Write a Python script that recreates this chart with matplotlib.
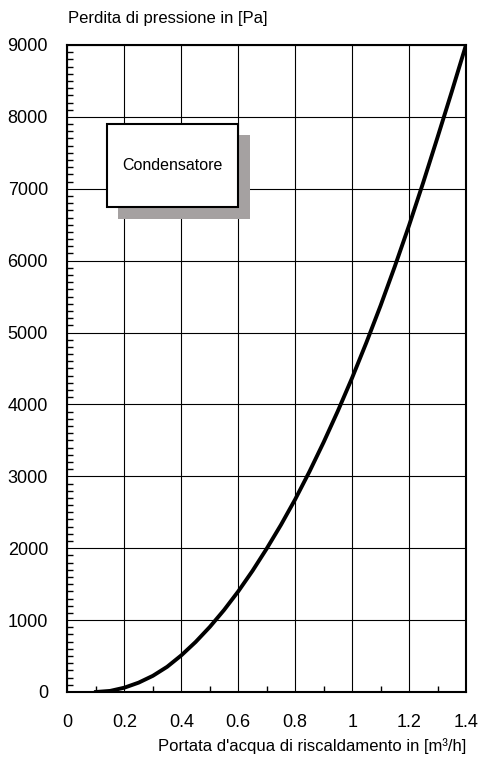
import matplotlib.pyplot as plt
from matplotlib.patches import Rectangle
from matplotlib.ticker import MultipleLocator

plt.rcParams['font.family'] = ['Liberation Sans', 'DejaVu Sans']

# values (m3/h, Pa)
flow = [0.10, 0.15, 0.2, 0.25, 0.3, 0.35, 0.4, 0.45, 0.5, 0.55, 0.6, 0.65,
        0.7, 0.75, 0.8, 0.85, 0.9, 0.95, 1.0, 1.05, 1.1, 1.15, 1.2, 1.25,
        1.3, 1.35, 1.4]
pressure = [0, 15, 60, 130, 225, 350, 510, 695, 905, 1140, 1400, 1685,
            1995, 2325, 2680, 3065, 3475, 3910, 4370, 4860, 5375, 5920, 6490, 7090,
            7715, 8350, 9000]

x_ticks = [0, 0.2, 0.4, 0.6, 0.8, 1.0, 1.2, 1.4]
x_labels = ['0', '0.2', '0.4', '0.6', '0.8', '1', '1.2', '1.4']
y_ticks = [0, 1000, 2000, 3000, 4000, 5000, 6000, 7000, 8000, 9000]

fig = plt.figure(figsize=(4.8, 7.6), dpi=100)
ax = fig.add_axes([0.1406, 0.0895, 0.8302, 0.8513])

ax.plot(flow, pressure, color='black', lw=2.8, solid_joinstyle='round', zorder=5)

ax.set_xlim(0, 1.4)
ax.set_ylim(0, 9000)
ax.set_xticks(x_ticks)
ax.set_xticklabels(x_labels)
ax.set_yticks(y_ticks)
ax.xaxis.set_minor_locator(MultipleLocator(0.1))
ax.yaxis.set_minor_locator(MultipleLocator(100))
ax.tick_params(which='both', direction='in', labelsize=13, color='black')
ax.tick_params(axis='y', which='major', length=0, pad=14)
ax.tick_params(axis='x', which='major', length=0, pad=16)
ax.tick_params(which='minor', length=4, width=1)
ax.grid(True, which='major', color='black', lw=0.8)
for s in ax.spines.values():
    s.set_linewidth(1.5)

# label box with shadow
ax.add_patch(Rectangle((0.126, 0.731), 0.332, 0.130, transform=ax.transAxes,
                       facecolor='#a5a1a1', edgecolor='none', zorder=6))
ax.add_patch(Rectangle((0.098, 0.750), 0.329, 0.128, transform=ax.transAxes,
                       facecolor='white', edgecolor='black', lw=1.5, zorder=7))
ax.text(0.2625, 0.814, 'Condensatore', transform=ax.transAxes, ha='center',
        va='center', fontsize=11.5, zorder=8)

fig.text(0.142, 0.976, 'Perdita di pressione in [Pa]', ha='left', va='center', fontsize=12)
fig.text(0.971, 0.018, "Portata d'acqua di riscaldamento in [m³/h]", ha='right',
         va='center', fontsize=12)

fig.savefig('out.png', dpi=100)
